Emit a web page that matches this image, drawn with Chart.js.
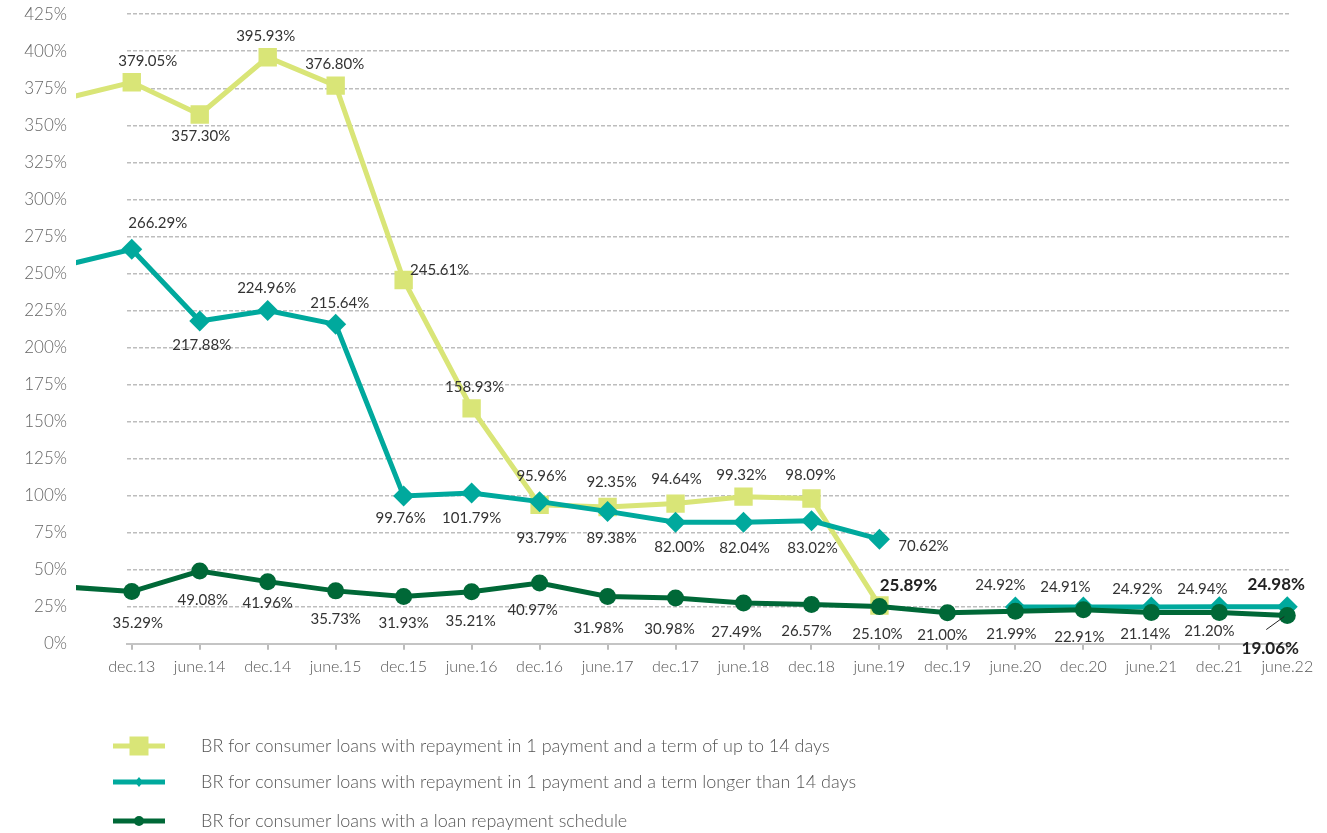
<!DOCTYPE html>
<html>
<head>
<meta charset="utf-8">
<script src="https://cdn.jsdelivr.net/npm/chart.js@4.4.1/dist/chart.umd.min.js"></script>
<style>
  html, body { margin: 0; padding: 0; background: #fff; }
  #box { width: 1327px; height: 833px; position: relative; }
</style>
</head>
<body>
<div id="box"><canvas id="myChart"></canvas></div>
<script>
// periods (first one is outside the plot, only the line runs in from it)
var periods = ['june.13', 'dec.13', 'june.14', 'dec.14', 'june.15', 'dec.15', 'june.16', 'dec.16', 'june.17',
    'dec.17', 'june.18', 'dec.18', 'june.19', 'dec.19', 'june.20', 'dec.20', 'june.21', 'dec.21', 'june.22'];

var shortTerm = [367.8, 379.05, 357.30, 395.93, 376.80, 245.61, 158.93, 93.79, 92.35, 94.64, 99.32, 98.09, 25.89,
    null, null, null, null, null, null];
var longTerm = [255.3, 266.29, 217.88, 224.96, 215.64, 99.76, 101.79, 95.96, 89.38, 82.00, 82.04, 83.02, 70.62,
    null, 24.92, 24.91, 24.92, 24.94, 24.98];
var schedule = [38.5, 35.29, 49.08, 41.96, 35.73, 31.93, 35.21, 40.97, 31.98, 30.98, 27.49, 26.57, 25.10,
    21.00, 21.99, 22.91, 21.14, 21.20, 19.06];

var yTicks = [0, 25, 50, 75, 100, 125, 150, 175, 200, 225, 250, 275, 300, 325, 350, 375, 400, 425];

var seriesNames = [
    'BR for consumer loans with repayment in 1 payment and a term of up to 14 days',
    'BR for consumer loans with repayment in 1 payment and a term longer than 14 days',
    'BR for consumer loans with a loan repayment schedule'
];

// where each value label sits relative to its point [dx, dy], bold flag, leader line flag
var shortLbl = [null, [16,-21], [1,22], [-2,-21], [-1,-21], [36,-10], [3,-21], [2,33], [4,-25], [1,-24], [-2,-22],
    [-1,-23], [29,-20,1]];
var longLbl = [null, [26,-26], [2,24], [-1,-22], [4,-21], [-3,22], [0,25], [2,-25], [4,27], [4,25], [1,26], [1,27],
    [44,7], null, [-15,-22], [-18,-20], [-14,-18], [-17,-18], [-11,-22,1]];
var schedLbl = [null, [6,32], [3,29], [0,22], [0,28], [0,27], [-1,30], [-7,27], [-9,32], [-6,31], [-7,29], [-5,27],
    [-2,28], [-5,22], [-4,23], [-4,27], [-6,22], [-10,19], [-17,33,1,1]];

var yellow = '#d9e577', teal = '#00a99d', green = '#006837';

var toPts = function(arr){
    return arr.map(function(v, i){ return {x: i - 1, y: v}; });
};
var hideFirst = function(r){
    return function(c){ return c.dataIndex === 0 ? 0 : r; };
};

var labelPlugin = {
    id: 'valueLabels',
    afterDatasetsDraw: function(chart){
        var ctx = chart.ctx;
        var sets = [shortLbl, longLbl, schedLbl];
        ctx.save();
        ctx.textAlign = 'center';
        ctx.textBaseline = 'middle';
        chart.data.datasets.forEach(function(ds, di){
            var meta = chart.getDatasetMeta(di);
            meta.data.forEach(function(pt, i){
                var o = sets[di][i];
                var v = ds.data[i].y;
                if (!o || v === null) return;
                var tx = pt.x + o[0], ty = pt.y + o[1];
                ctx.font = o[2] ? 'bold 17px Lato' : '15px Lato';
                ctx.fillStyle = o[2] ? '#222' : '#333';
                ctx.fillText(v.toFixed(2) + '%', tx, ty);
                if (o[3]) {
                    ctx.strokeStyle = '#222';
                    ctx.lineWidth = 1;
                    ctx.beginPath();
                    ctx.moveTo(tx - 4, ty - 19);
                    ctx.lineTo(pt.x - 3, pt.y + 1);
                    ctx.stroke();
                }
            });
        });
        ctx.restore();
    }
};

var legendPlugin = {
    id: 'sideLegend',
    afterDraw: function(chart){
        var ctx = chart.ctx;
        var rows = [746, 782, 821];
        var styles = [
            {c: yellow, m: 'rect', s: 19},
            {c: teal, m: 'diamond', s: 5},
            {c: green, m: 'circle', s: 5}
        ];
        ctx.save();
        rows.forEach(function(y, i){
            var st = styles[i];
            ctx.strokeStyle = st.c;
            ctx.fillStyle = st.c;
            ctx.lineWidth = 5;
            ctx.beginPath();
            ctx.moveTo(113, y);
            ctx.lineTo(165, y);
            ctx.stroke();
            ctx.beginPath();
            if (st.m === 'rect') {
                ctx.rect(139 - st.s / 2, y - st.s / 2, st.s, st.s);
            } else if (st.m === 'diamond') {
                ctx.moveTo(139, y - st.s); ctx.lineTo(139 + st.s - 1, y);
                ctx.lineTo(139, y + st.s); ctx.lineTo(139 - st.s + 1, y);
                ctx.closePath();
            } else {
                ctx.arc(139, y, st.s, 0, Math.PI * 2);
            }
            ctx.fill();
            ctx.font = '300 18px Lato';
            ctx.fillStyle = '#555';
            ctx.textAlign = 'left';
            ctx.textBaseline = 'middle';
            ctx.fillText(seriesNames[i], 201, y);
        });
        ctx.restore();
    }
};

var ctx = document.getElementById('myChart').getContext('2d');
var chart = new Chart(ctx, {
    type: 'line',
    data: {
        datasets: [{
            label: seriesNames[0],
            data: toPts(shortTerm),
            borderColor: yellow,
            backgroundColor: yellow,
            borderWidth: 5,
            pointStyle: 'rect',
            pointRadius: hideFirst(13),
            pointBorderWidth: 0,
            order: 3,
            clip: {left: 51, top: 10, right: 10, bottom: 10}
        }, {
            label: seriesNames[1],
            data: toPts(longTerm),
            borderColor: teal,
            backgroundColor: teal,
            borderWidth: 5,
            pointStyle: 'rectRot',
            pointRadius: hideFirst(10.5),
            pointBorderWidth: 0,
            order: 2,
            clip: {left: 51, top: 10, right: 10, bottom: 10}
        }, {
            label: seriesNames[2],
            data: toPts(schedule),
            borderColor: green,
            backgroundColor: green,
            borderWidth: 5,
            pointStyle: 'circle',
            pointRadius: hideFirst(8.5),
            pointBorderWidth: 0,
            order: 1,
            clip: {left: 51, top: 10, right: 10, bottom: 10}
        }]
    },
    options: {
        responsive: true,
        maintainAspectRatio: false,
        animation: false,
        events: [],
        layout: { padding: {left: 0, right: 37, top: 14, bottom: 150} },
        plugins: {
            legend: { display: false },
            tooltip: { enabled: false }
        },
        scales: {
            x: {
                type: 'linear',
                min: -0.07,
                max: 17.04,
                ticks: {
                    stepSize: 1,
                    includeBounds: false,
                    autoSkip: false,
                    maxRotation: 0,
                    padding: 7,
                    color: '#555',
                    font: {family: 'Lato', size: 16, weight: 300},
                    callback: function(v){ return periods[v + 1]; }
                },
                grid: { drawOnChartArea: false, drawTicks: true, tickLength: 6, color: '#bbb', lineWidth: 2 },
                border: { display: true, color: '#c4c4c4', width: 2 }
            },
            y: {
                min: 0,
                max: 425,
                afterBuildTicks: function(s){ s.ticks = yTicks.map(function(v){ return {value: v}; }); },
                afterFit: function(s){ s.width = 127; },
                ticks: {
                    padding: 4,
                    color: '#666',
                    font: {family: 'Lato', size: 17, weight: 300},
                    callback: function(v){ return v + '%'; }
                },
                grid: { drawTicks: true, tickLength: 56, tickColor: 'rgba(0,0,0,0)', color: '#bdbdbd', lineWidth: 1.5 },
                border: { display: false, dash: [4, 2] }
            }
        }
    },
    plugins: [labelPlugin, legendPlugin]
});
</script>
</body>
</html>
